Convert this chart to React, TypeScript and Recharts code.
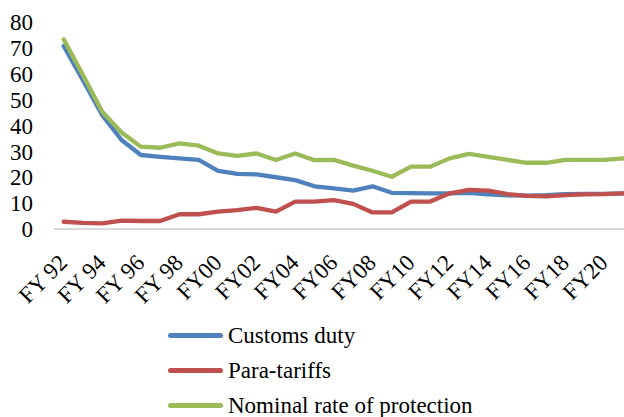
import { LineChart, Line, XAxis, YAxis, Legend } from "recharts"

const years = [
    "FY 92", "FY 93", "FY 94", "FY 95", "FY 96", "FY 97", "FY 98", "FY 99",
    "FY00", "FY01", "FY02", "FY03", "FY04", "FY05", "FY06", "FY07", "FY08",
    "FY09", "FY10", "FY11", "FY12", "FY13", "FY14", "FY15", "FY16", "FY17",
    "FY18", "FY19", "FY20", "FY21",
]

const customsDuty = [
    70.7, 57.5, 44, 34.4, 28.6, 27.9, 27.3, 26.7, 22.5, 21.3, 21.1, 20, 18.9,
    16.5, 15.7, 14.8, 16.5, 14, 13.9, 13.8, 13.8, 14, 13.4, 13, 12.9, 13.1,
    13.5, 13.6, 13.6, 13.8,
]

const paraTariffs = [
    2.8, 2.4, 2.2, 3.2, 3.1, 3.1, 5.7, 5.7, 6.7, 7.3, 8.2, 6.7, 10.6, 10.6,
    11.2, 9.7, 6.4, 6.4, 10.6, 10.6, 13.8, 15.1, 14.8, 13.5, 12.8, 12.6, 13.1,
    13.4, 13.5, 13.8,
]

const nominalProtection = [
    73.3, 59.5, 45.3, 37.3, 31.8, 31.4, 33.1, 32.2, 29.2, 28.3, 29.2, 26.7,
    29.2, 26.6, 26.7, 24.5, 22.5, 20.2, 24.1, 24.1, 27.3, 29, 27.9, 26.7, 25.6,
    25.6, 26.7, 26.7, 26.7, 27.3,
]

const yTicks = [0, 10, 20, 30, 40, 50, 60, 70, 80]

const seriesOrder = ["Customs duty", "Para-tariffs", "Nominal rate of protection"]

const data = years.map((year, i) => ({
    year,
    customs: customsDuty[i],
    para: paraTariffs[i],
    nominal: nominalProtection[i],
}))

const font = "Liberation Serif, Tinos, DejaVu Serif, serif"

// every second year gets a slanted label
function YearTick(props: any) {
    const { x, y, payload, index } = props
    if (index % 2 !== 0) return null
    return (
        <text
            x={x + 5}
            y={y + 27}
            transform={`rotate(-45, ${x + 5}, ${y + 27})`}
            textAnchor="end"
            style={{ fontFamily: font, fontSize: 23 }}
            fill="#000"
        >
            {payload.value}
        </text>
    )
}

function LegendRows(props: any) {
    const items = [...(props.payload || [])].sort(
        (a: any, b: any) => seriesOrder.indexOf(a.value) - seriesOrder.indexOf(b.value)
    )
    return (
        <div style={{ fontFamily: font, fontSize: 23, color: "#000" }}>
            {items.map((entry: any) => (
                <div
                    key={entry.value}
                    style={{ display: "flex", alignItems: "center", height: 35 }}
                >
                    <span
                        style={{
                            display: "inline-block",
                            width: 55,
                            height: 5,
                            borderRadius: 3,
                            background: entry.color,
                            marginRight: 5,
                        }}
                    />
                    <span>{entry.value}</span>
                </div>
            ))}
        </div>
    )
}

export default function App() {
    return (
        <div
            style={{
                position: "absolute",
                left: 0,
                top: 0,
                width: 624,
                height: 417,
                overflow: "hidden",
                background: "#fff",
                fontFamily: font,
            }}
        >
            <LineChart
                width={640}
                height={417}
                data={data}
                margin={{ top: 22, right: 7, left: 0, bottom: 108 }}
            >
                <XAxis
                    dataKey="year"
                    interval={0}
                    tick={<YearTick />}
                    tickLine={false}
                    axisLine={{ stroke: "#D9D9D9", strokeWidth: 2 }}
                    padding={{ left: 9.65, right: 9.65 }}
                    height={80}
                />
                <YAxis
                    width={54}
                    domain={[0, 80]}
                    ticks={yTicks}
                    interval={0}
                    axisLine={false}
                    tickLine={false}
                    tickSize={0}
                    tickMargin={21}
                    tick={{ style: { fontFamily: font }, fontSize: 23, fill: "#000" }}
                />
                <Legend
                    layout="vertical"
                    verticalAlign="middle"
                    align="center"
                    content={<LegendRows />}
                    wrapperStyle={{ top: 318, left: 168 }}
                />
                <Line
                    type="linear"
                    dataKey="customs"
                    name="Customs duty"
                    stroke="#4F81BD"
                    strokeWidth={4.3}
                    strokeLinejoin="round"
                    strokeLinecap="round"
                    dot={false}
                    isAnimationActive={false}
                />
                <Line
                    type="linear"
                    dataKey="para"
                    name="Para-tariffs"
                    stroke="#C0504D"
                    strokeWidth={4.3}
                    strokeLinejoin="round"
                    strokeLinecap="round"
                    dot={false}
                    isAnimationActive={false}
                />
                <Line
                    type="linear"
                    dataKey="nominal"
                    name="Nominal rate of protection"
                    stroke="#9BBB59"
                    strokeWidth={4.3}
                    strokeLinejoin="round"
                    strokeLinecap="round"
                    dot={false}
                    isAnimationActive={false}
                />
            </LineChart>
        </div>
    )
}
